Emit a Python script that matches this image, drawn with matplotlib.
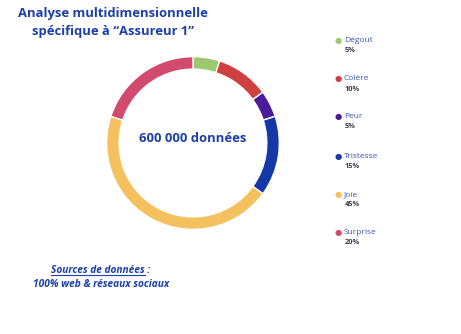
import matplotlib.pyplot as plt
from matplotlib import font_manager as fm


def font_file(name, size):
    # pick a static Open Sans file by name so weight/italic are exact
    path = next(f.fname for f in fm.fontManager.ttflist if f.fname.endswith(name))
    return fm.FontProperties(fname=path, size=size)


labels = ["Dégout", "Colère", "Peur", "Tristesse", "Joie", "Surprise"]
shares = [5, 10, 5, 15, 45, 20]
colors = ["#9cc96f", "#cf4040", "#4a1b9b", "#1538a7", "#f4c15e", "#d24b6f"]
total_label = "600 000 données"

BLUE = "#1c3fa8"

W, H = 461, 334
fig = plt.figure(figsize=(W / 100, H / 100), dpi=100)

# donut, centred at (193, 143) px, outer radius ~86 px
cx, cy, half = 193, 143, 95
ax = fig.add_axes([(cx - half) / W, (H - cy - half) / H, 2 * half / W, 2 * half / H])
ax.pie(shares, colors=colors, startangle=90, counterclock=False, radius=1.0,
       wedgeprops=dict(width=0.145, edgecolor="white", linewidth=1.0))
ax.set_xlim(-1.1, 1.1)
ax.set_ylim(-1.1, 1.1)
ax.set_aspect("equal")
ax.axis("off")
ax.text(0, 0.05, total_label, ha="center", va="center",
        fontproperties=font_file("OpenSans-Bold.ttf", 9.4), color=BLUE)

# title
for txt, y in [("Analyse multidimensionnelle", 14), ("spécifique à “Assureur 1”", 32)]:
    fig.text(113 / W, 1 - y / H, txt, ha="center", va="center",
             fontproperties=font_file("OpenSans-Bold.ttf", 9.4), color=BLUE)

# legend on the right
rows_y = [40, 79, 117, 156, 195, 233]
for lab, val, col, y in zip(labels, shares, colors, rows_y):
    fig.text(338 / W, 1 - y / H, "●", ha="center", va="center", fontsize=6,
             color=col, family="DejaVu Sans")
    fig.text(344 / W, 1 - y / H, lab, ha="left", va="center",
             fontproperties=font_file("OpenSans-Regular.ttf", 6), color="#3b57b8")
    fig.text(345 / W, 1 - (y + 10) / H, f"{val}%", ha="left", va="center",
             fontproperties=font_file("OpenSans-Bold.ttf", 5.3), color="#3c3c4c")

# sources note
note_font = font_file("OpenSans-BoldItalic.ttf", 7.3)
line1 = fig.text(101 / W, 1 - 273 / H, "Sources de données :", ha="center",
                 va="baseline", fontproperties=note_font, color=BLUE)
fig.text(101 / W, 1 - 287 / H, "100% web & réseaux sociaux", ha="center",
         va="baseline", fontproperties=note_font, color=BLUE)

# underline only the "Sources de données" part
fig.canvas.draw()
r = fig.canvas.get_renderer()
bb = line1.get_window_extent(r)
tmp = fig.text(0, 0, "Sources de données", fontproperties=note_font)
w = tmp.get_window_extent(r).width
tmp.remove()
base = (1 - 273 / H) * H - 2
fig.add_artist(plt.Line2D([bb.x0 / W, (bb.x0 + w) / W], [base / H, base / H],
                          transform=fig.transFigure, color=BLUE, linewidth=0.8))

fig.savefig("out.png", dpi=100, facecolor="white")
